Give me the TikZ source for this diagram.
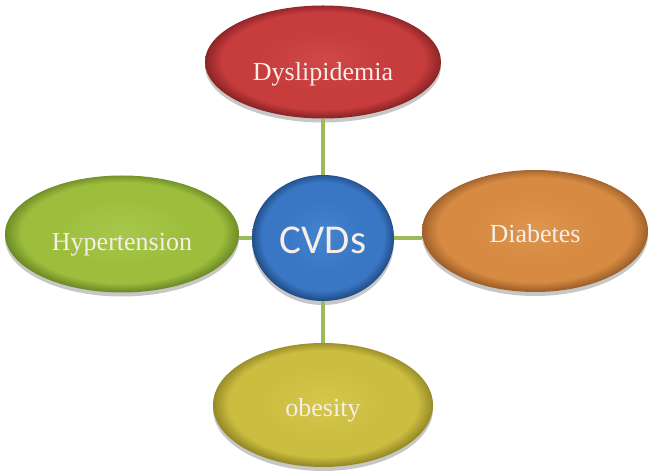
\documentclass[tikz,border=0pt]{standalone}
\usepackage{fontspec}
\setmainfont{Liberation Serif}
\newfontfamily\hubfont{Carlito}
\usetikzlibrary{shapes.geometric,shadows}

% palette: main fill, darker rim, lighter core
\definecolor{redmain}{HTML}{C73C3D}
\definecolor{reddark}{HTML}{8C2426}
\definecolor{redhi}{HTML}{D04847}
\definecolor{bluemain}{HTML}{3977C4}
\definecolor{bluedark}{HTML}{234E8A}
\definecolor{bluehi}{HTML}{4483CF}
\definecolor{greenmain}{HTML}{9DBE3D}
\definecolor{greendark}{HTML}{6E8C26}
\definecolor{greenhi}{HTML}{A8C74A}
\definecolor{orangemain}{HTML}{D68A42}
\definecolor{orangedark}{HTML}{A0602A}
\definecolor{orangehi}{HTML}{DE954E}
\definecolor{yellowmain}{HTML}{CBBD40}
\definecolor{yellowdark}{HTML}{968A26}
\definecolor{yellowhi}{HTML}{D4C74C}
\definecolor{linkgreen}{HTML}{9BBB59}
\definecolor{labelwhite}{HTML}{F6EEE8}

% bevelled fill: flat face, darker rim at the border
\newcommand\mkbevel[1]{%
  \pgfdeclareradialshading{bevel#1}{\pgfpoint{0bp}{1bp}}{%
    color(0bp)=(#1hi); color(14bp)=(#1main); color(21.5bp)=(#1main);
    color(25bp)=(#1dark); color(50bp)=(#1dark)}}
\mkbevel{red}\mkbevel{blue}\mkbevel{green}\mkbevel{orange}\mkbevel{yellow}

% text placed so that its capitals are centred #1 units below the shape centre
\newcommand\placetext[2]{\raisebox{\dimexpr-#1bp-0.33em\relax}[0pt][0pt]{#2}}

\tikzset{
  blob/.style={ellipse, inner sep=0pt, shade, shading=bevel#1,
    drop shadow={shadow xshift=0bp, shadow yshift=-4bp, opacity=0.22, fill=black},
    text=labelwhite, font=\fontsize{26bp}{30bp}\selectfont},
  hub/.style={blob=blue, font=\hubfont\fontsize{41bp}{46bp}\selectfont},
  link/.style={draw=linkgreen, line width=4bp}
}

\begin{document}
\begin{tikzpicture}[x=1bp, y=-1bp]
  \useasboundingbox[fill=white] (0,0) rectangle (651,472);

  \node[hub, minimum width=142bp, minimum height=126bp] (cvd) at (323,238) {\placetext{2}{CVDs}};

  \node[blob=red, minimum width=236bp, minimum height=113bp] (dys) at (323,62) {\placetext{10}{Dyslipidemia}};
  \node[blob=green, minimum width=234bp, minimum height=117bp] (hyp) at (122,234) {\placetext{8}{Hypertension}};
  \node[blob=orange, minimum width=226bp, minimum height=122bp] (dia) at (535,231) {\placetext{3}{Diabetes}};
  \node[blob=yellow, minimum width=220bp, minimum height=124bp] (obe) at (323,405) {\placetext{3}{obesity}};

  % straight spokes from the hub to each surrounding ellipse
  \draw[link] (cvd.north) -- (cvd.north |- dys.south);
  \draw[link] (cvd.south) -- (cvd.south |- obe.north);
  \draw[link] (cvd.west) -- (cvd.west -| hyp.east);
  \draw[link] (cvd.east) -- (cvd.east -| dia.west);
\end{tikzpicture}
\end{document}
